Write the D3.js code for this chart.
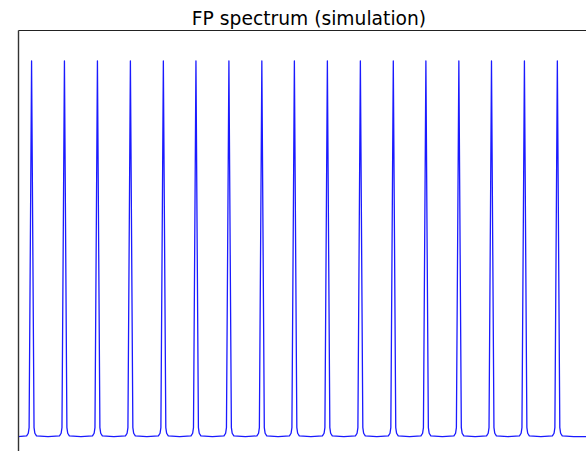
<!DOCTYPE html>
<html>
<head>
<meta charset="utf-8">
<script src="https://cdn.jsdelivr.net/npm/d3@7"></script>
<style>
  body { margin: 0; background: #fff; }
  svg { display: block; }
</style>
</head>
<body>
<svg id="chart"></svg>
<script>
// Peak centres (free spectral ranges)
const peakCenters = [0.413, 1.413, 2.417, 3.42, 4.423, 5.415, 6.418, 7.42, 8.41,
  9.414, 10.418, 11.42, 12.412, 13.415, 14.408, 15.41, 16.412];
// Shape of one transmission peak as sampled: offset from centre and relative intensity
const profileOffset = [0, 0.075, 0.1, 0.15, 0.5];
const profileValue = [1, 0.025, 0.01, 0.003, 0.001];
const xExtent = [0, 17.71];
const title = "FP spectrum (simulation)";

const width = 586, height = 451;
const margin = { top: 30, left: 18 };
const plotRight = 600, plotBottom = 480;

const svg = d3.select("#chart").attr("width", width).attr("height", height);

// build the curve from the peak list and profile
let data = [];
peakCenters.forEach((c) => {
  profileOffset.forEach((o, i) => {
    data.push({ x: c - o, y: profileValue[i] });
    if (o > 0) data.push({ x: c + o, y: profileValue[i] });
  });
});
data.push({ x: xExtent[0], y: profileValue[profileValue.length - 1] });
data.push({ x: xExtent[1], y: profileValue[profileValue.length - 1] });
data.sort((a, b) => a.x - b.x);
// drop duplicates where neighbouring peaks meet
data = data.filter((d, i) => i === 0 || Math.abs(d.x - data[i - 1].x) > 1e-6);

const x = d3.scaleLinear().domain(xExtent).range([margin.left, plotRight]);
const y = d3.scaleLinear().domain([-0.1144, 1.0824]).range([plotBottom, margin.top]);

svg.append("clipPath").attr("id", "clip")
  .append("rect")
  .attr("x", margin.left).attr("y", margin.top)
  .attr("width", plotRight - margin.left).attr("height", plotBottom - margin.top);

const line = d3.line()
  .x((d) => x(d.x))
  .y((d) => y(d.y));

svg.append("path")
  .datum(data)
  .attr("clip-path", "url(#clip)")
  .attr("fill", "none")
  .attr("stroke", "#1a1aff")
  .attr("stroke-width", 1.3)
  .attr("stroke-linejoin", "round")
  .attr("d", line);

// spines (no ticks)
svg.append("g")
  .attr("transform", "translate(" + margin.left + ",0)")
  .call(d3.axisLeft(y).tickValues([]).tickSizeOuter(0))
  .select(".domain").attr("stroke", "#333").attr("stroke-width", 1.4);

svg.append("g")
  .attr("transform", "translate(0," + margin.top + ")")
  .call(d3.axisTop(x).tickValues([]).tickSizeOuter(0))
  .select(".domain").attr("stroke", "#222").attr("stroke-width", 1.2);

svg.append("text")
  .attr("x", (margin.left + plotRight) / 2)
  .attr("y", 24.5)
  .attr("text-anchor", "middle")
  .attr("font-family", "DejaVu Sans")
  .attr("font-size", 18.7)
  .attr("fill", "#000")
  .text(title);
</script>
</body>
</html>
